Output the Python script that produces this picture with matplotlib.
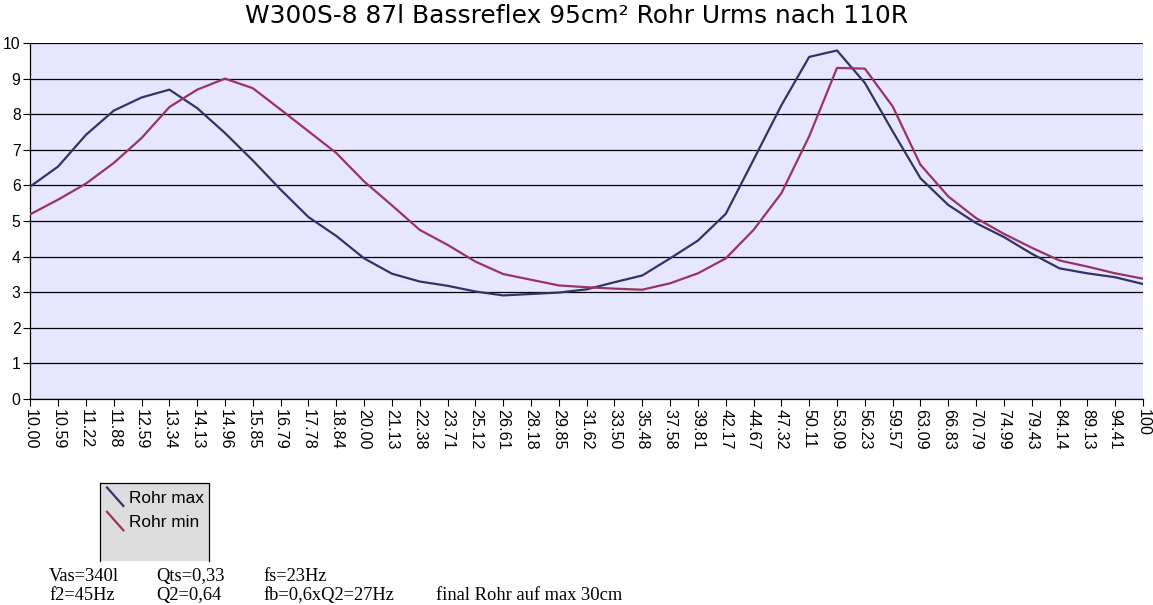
import matplotlib
matplotlib.use("Agg")
import matplotlib.pyplot as plt
from matplotlib.lines import Line2D
from matplotlib.patches import Rectangle
from matplotlib.legend_handler import HandlerBase

# frequency categories (Hz)
freqs = ["10.00", "10.59", "11.22", "11.88", "12.59", "13.34", "14.13", "14.96",
         "15.85", "16.79", "17.78", "18.84", "20.00", "21.13", "22.38", "23.71",
         "25.12", "26.61", "28.18", "29.85", "31.62", "33.50", "35.48", "37.58",
         "39.81", "42.17", "44.67", "47.32", "50.11", "53.09", "56.23", "59.57",
         "63.09", "66.83", "70.79", "74.99", "79.43", "84.14", "89.13", "94.41", "100"]

rohr_max = [5.97, 6.53, 7.42, 8.10, 8.47, 8.69, 8.17, 7.47, 6.70, 5.88,
            5.11, 4.58, 3.95, 3.52, 3.30, 3.18, 3.02, 2.91, 2.95, 2.99,
            3.08, 3.28, 3.47, 3.95, 4.45, 5.20, 6.72, 8.25, 9.61, 9.79,
            8.88, 7.52, 6.20, 5.45, 4.94, 4.55, 4.08, 3.67, 3.53, 3.42, 3.23]

rohr_min = [5.19, 5.60, 6.05, 6.63, 7.33, 8.20, 8.69, 9.00, 8.73, 8.13,
            7.52, 6.91, 6.11, 5.44, 4.75, 4.33, 3.86, 3.51, 3.35, 3.19,
            3.14, 3.10, 3.07, 3.25, 3.53, 3.95, 4.75, 5.78, 7.38, 9.30,
            9.28, 8.22, 6.58, 5.69, 5.08, 4.64, 4.25, 3.89, 3.72, 3.53, 3.38]

notes_row1 = [("Vas=340l", 49), ("Qts=0,33", 156), ("fs=23Hz", 263)]
notes_row2 = [("f2=45Hz", 49), ("Q2=0,64", 156), ("fb=0,6xQ2=27Hz", 263),
              ("final Rohr auf max 30cm", 436)]

W, H = 1153, 605
fig = plt.figure(figsize=(W / 100, H / 100), dpi=100)
ax = fig.add_axes([30.3 / W, 1 - 399 / H, (1143 - 30.3) / W, (399 - 43) / H])
ax.set_facecolor("#e6e6ff")

x = list(range(len(freqs)))
ax.plot(x, rohr_max, color="#333366", lw=1.6, label="Rohr max", zorder=3)
ax.plot(x, rohr_min, color="#993366", lw=1.6, label="Rohr min", zorder=3)

ax.set_xlim(0, len(freqs) - 1)
ax.set_ylim(0, 10)
ax.set_yticks(range(11))
ax.set_xticks(x)
ax.set_xticklabels(freqs, rotation=270, family="Liberation Sans", fontsize=11.6)
for lab in ax.get_yticklabels():
    lab.set_family("Liberation Sans")
    lab.set_fontsize(11.3)
ax.tick_params(axis="both", direction="out", length=5, width=0.8, color="black", pad=2)
ax.yaxis.grid(True, color="black", lw=0.9)
ax.set_axisbelow(True)
for s in ("top", "right"):
    ax.spines[s].set_visible(False)
for s in ("left", "bottom"):
    ax.spines[s].set_linewidth(0.9)

fig.text(0.5, 1 - 16 / H, "W300S-8 87l Bassreflex 95cm² Rohr Urms nach 110R",
         ha="center", va="center", fontsize=17.9, family="DejaVu Sans")


class DiagHandler(HandlerBase):
    def create_artists(self, legend, orig_handle, xdescent, ydescent,
                       width, height, fontsize, trans):
        ln = Line2D([-xdescent, -xdescent + width],
                    [-ydescent + height * 1.1, -ydescent - height * 0.1],
                    color=orig_handle.get_color(), lw=orig_handle.get_linewidth(),
                    transform=trans)
        return [ln]


# legend box (grey, no bottom edge)
bx0, bx1, by0, by1 = 100, 209, 483, 561
fig.patches.append(Rectangle((bx0 / W, 1 - by1 / H), (bx1 - bx0) / W, (by1 - by0) / H,
                             transform=fig.transFigure, facecolor="#dddddd",
                             edgecolor="none", zorder=1))
fig.lines.append(Line2D([bx0 / W, bx0 / W, bx1 / W, bx1 / W],
                        [1 - by1 / H, 1 - by0 / H, 1 - by0 / H, 1 - by1 / H],
                        transform=fig.transFigure, color="black", lw=0.9))
handles, labels = ax.get_legend_handles_labels()
leg = fig.legend(handles, labels, loc="upper left",
                 bbox_to_anchor=(107 / W, 1 - 489 / H), frameon=False,
                 prop={"family": "Liberation Sans", "size": 12.4},
                 handler_map={Line2D: DiagHandler()},
                 handlelength=0.95, handleheight=1.0, handletextpad=0.35,
                 labelspacing=0.45, borderpad=0, borderaxespad=0)

for txt, px in notes_row1:
    fig.text(px / W, 1 - 581 / H, txt, ha="left", va="baseline",
             family="Liberation Serif", fontsize=13.3)
for txt, px in notes_row2:
    fig.text(px / W, 1 - 600 / H, txt, ha="left", va="baseline",
             family="Liberation Serif", fontsize=13.3)

fig.savefig("out.png", dpi=100, facecolor="white")
